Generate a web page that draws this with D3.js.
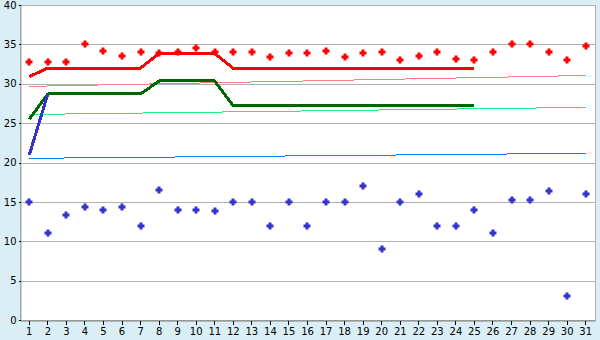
<!DOCTYPE html>
<html>
<head>
<meta charset="utf-8">
<script src="https://cdn.jsdelivr.net/npm/d3@7"></script>
<style>
  body { margin: 0; background: #d9eef5; }
  svg { display: block; }
</style>
</head>
<body>
<div id="chart"></div>
<script>
// days of the month
var days = d3.range(1, 32);

// daily readings
var redPoints = [32.8, 32.8, 32.8, 35.0, 34.2, 33.5, 34.0, 33.9, 34.0, 34.5, 34.0,
                 34.0, 34.0, 33.4, 33.9, 33.9, 34.2, 33.4, 33.9, 34.0, 33.0, 33.5,
                 34.0, 33.1, 33.0, 34.0, 35.0, 35.0, 34.0, 33.0, 34.75];
var bluePoints = [15.0, 11.0, 13.3, 14.4, 14.0, 14.4, 12.0, 16.5, 14.0, 14.0, 13.9,
                  15.0, 15.0, 12.0, 15.0, 12.0, 15.0, 15.0, 17.0, 9.0, 15.0, 16.0,
                  12.0, 12.0, 14.0, 11.0, 15.2, 15.2, 16.35, 3.0, 16.0];

// thick step lines (day 1 .. 25)
var redLine = [30.9, 32, 32, 32, 32, 32, 32, 33.85, 33.85, 33.85, 33.85,
               31.95, 31.95, 31.95, 31.95, 31.95, 31.95, 31.95, 31.95, 31.95, 31.95, 31.95, 31.95, 31.95, 31.95];
var greenLine = [25.5, 28.7, 28.7, 28.7, 28.7, 28.7, 28.7, 30.35, 30.35, 30.35, 30.35,
                 27.2, 27.2, 27.2, 27.2, 27.2, 27.2, 27.2, 27.2, 27.2, 27.2, 27.2, 27.2, 27.2, 27.2];
var blueLine = [20.95, 28.7];

// thin trend lines: value at day 1 and day 31
var trendDays = [1, 31];
var redTrend = [29.67, 31.05];
var greenTrend = [26.1, 27.0];
var blueTrend = [20.53, 21.17];

var yTicks = [0, 5, 10, 15, 20, 25, 30, 35, 40];

var width = 600, height = 340;

var svg = d3.select("#chart").append("svg")
    .attr("width", width)
    .attr("height", height)
    .style("font-family", "'DejaVu Sans', Verdana, sans-serif")
    .style("font-size", "10px");

svg.append("rect")
    .attr("width", width).attr("height", height)
    .attr("fill", "#d9eef5");

var x = d3.scaleBand().domain(days).range([20, 595]).padding(0);
var y = d3.scaleLinear().domain([0, 40]).range([320, 5]);
var cx = function(d) { return x(d) + x.bandwidth() / 2; };

svg.append("rect")
    .attr("x", 20).attr("y", 5)
    .attr("width", 575).attr("height", 315)
    .attr("fill", "white")
    .attr("stroke", "#b0b0b0")
    .attr("shape-rendering", "crispEdges");

// grid lines
svg.append("g").selectAll("line")
    .data(yTicks)
    .enter().append("line")
    .attr("x1", 20).attr("x2", 595)
    .attr("y1", function(d) { return Math.round(y(d)) + 0.5; })
    .attr("y2", function(d) { return Math.round(y(d)) + 0.5; })
    .attr("stroke", "#b0b0b0")
    .attr("shape-rendering", "crispEdges");

// axes
var yAxis = svg.append("g")
    .attr("transform", "translate(20.5,0)")
    .call(d3.axisLeft(y).tickValues(yTicks).tickSize(2).tickPadding(2));
yAxis.select(".domain").attr("stroke", "#a0a0a0");
yAxis.selectAll("text").attr("fill", "#000").style("font-size", "10px").style("font-family", "'DejaVu Sans', Verdana, sans-serif");

var xAxis = svg.append("g")
    .attr("transform", "translate(0,320.5)")
    .call(d3.axisBottom(x).tickSize(4).tickSizeOuter(0).tickPadding(3));
xAxis.select(".domain").attr("stroke", "#808080");
xAxis.selectAll("text").attr("fill", "#000").style("font-size", "10px").style("font-family", "'DejaVu Sans', Verdana, sans-serif");
svg.selectAll(".tick line").attr("shape-rendering", "crispEdges");

// thin trend lines
var trend = d3.line()
    .x(function(d, i) { return cx(trendDays[i]); })
    .y(function(d) { return y(d); });

[[redTrend, "#ff8080"], [greenTrend, "#20f080"], [blueTrend, "#0080ff"]].forEach(function(t) {
    svg.append("path")
        .datum(t[0])
        .attr("d", trend)
        .attr("fill", "none")
        .attr("stroke", t[1])
        .attr("stroke-width", 1)
        .attr("shape-rendering", "crispEdges");
});

// thick lines
var thick = d3.line()
    .x(function(d, i) { return cx(days[i]); })
    .y(function(d) { return y(d); });

[[redLine, "#ff0000"], [greenLine, "#006600"], [blueLine, "#3333cc"]].forEach(function(t) {
    svg.append("path")
        .datum(t[0])
        .attr("d", thick)
        .attr("fill", "none")
        .attr("stroke", t[1])
        .attr("stroke-width", 3)
        .attr("stroke-linejoin", "round")
        .attr("shape-rendering", "crispEdges");
});

// markers
var marker = "M-1.5,-3.5h3v2h2v3h-2v2h-3v-2h-2v-3h2z";

svg.append("g").selectAll("path")
    .data(redPoints)
    .enter().append("path")
    .attr("d", marker)
    .attr("transform", function(d, i) { return "translate(" + Math.round(cx(days[i])) + "," + Math.round(y(d)) + ")"; })
    .attr("fill", "#ff0000");

svg.append("g").selectAll("path")
    .data(bluePoints)
    .enter().append("path")
    .attr("d", marker)
    .attr("transform", function(d, i) { return "translate(" + Math.round(cx(days[i])) + "," + Math.round(y(d)) + ")"; })
    .attr("fill", "#3333cc");
</script>
</body>
</html>
